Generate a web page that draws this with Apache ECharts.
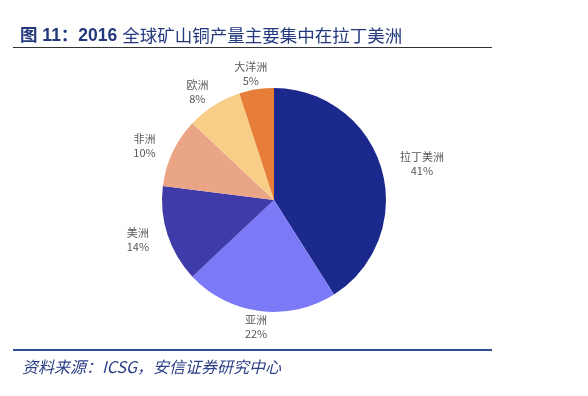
<!DOCTYPE html>
<html>
<head>
<meta charset="utf-8">
<script src="https://cdn.jsdelivr.net/npm/echarts@6/dist/echarts.min.js"></script>
<style>
html,body{margin:0;padding:0;background:#fff;}
#c{width:588px;height:396px;}
</style>
</head>
<body>
<div id="c"></div>
<script>
var categories = ['拉丁美洲', '亚洲', '美洲', '非洲', '欧洲', '大洋洲'];
var shares = [41, 22, 14, 10, 8, 5];
var colors = ['#1b288c', '#7b79f6', '#3f3caa', '#eaa486', '#f8cd88', '#e67e3a'];

var CX = 274, CY = 200, R = 112;

var chart = echarts.init(document.getElementById('c'), null, {renderer: 'canvas'});

var data = categories.map(function (n, i) {
  return {name: n, value: shares[i], itemStyle: {color: colors[i]}};
});

function midDir(idx) {
  var total = shares.reduce(function (a, b) { return a + b; }, 0);
  var cum = 0;
  for (var i = 0; i < idx; i++) cum += shares[i];
  var a = (cum + shares[idx] / 2) / total * Math.PI * 2;
  return [Math.sin(a), -Math.cos(a)];
}

chart.setOption({
  backgroundColor: '#ffffff',
  animation: false,
  title: [{
    left: 15,
    top: 22,
    text: '{a|图 11：2016 }{b|全球矿山铜产量主要集中在拉丁美洲}',
    textStyle: {
      rich: {
        a: {fontSize: 17.5, fontWeight: 'bold', color: '#24397c', fontFamily: 'Liberation Sans, Noto Sans CJK SC, sans-serif'},
        b: {fontSize: 17.5, fontWeight: 'normal', color: '#24397c', fontFamily: 'Noto Sans CJK SC, sans-serif'}
      }
    }
  }, {
    left: 17,
    top: 354,
    text: '资料来源：ICSG，安信证券研究中心',
    textStyle: {fontSize: 16, fontStyle: 'italic', fontWeight: 'normal', color: '#2b3f86', fontFamily: 'Noto Sans CJK SC, sans-serif'}
  }],
  graphic: [
    {type: 'line', shape: {x1: 13, y1: 47.5, x2: 492, y2: 47.5}, style: {stroke: '#333333', lineWidth: 1}},
    {type: 'line', shape: {x1: 13, y1: 350, x2: 492, y2: 350}, style: {stroke: '#2c4f96', lineWidth: 2}}
  ],
  series: [{
    type: 'pie',
    center: [CX, CY],
    radius: R,
    startAngle: 90,
    clockwise: true,
    avoidLabelOverlap: false,
    data: data,
    label: {
      show: true,
      position: 'outside',
      formatter: '{b}\n{c}%',
      fontSize: 11,
      lineHeight: 14,
      color: '#595959',
      fontFamily: 'Noto Sans CJK SC, sans-serif',
      align: 'center'
    },
    labelLine: {show: false},
    emphasis: {disabled: true},
    labelLayout: function (p) {
      var d = midDir(p.dataIndex);
      var w = p.labelRect.width, h = p.labelRect.height;
      return {
        x: CX + d[0] * (R + 20 + w / 2),
        y: CY + d[1] * (R + 2 + h / 2),
        align: 'center',
        verticalAlign: 'middle'
      };
    }
  }]
});
</script>
</body>
</html>
